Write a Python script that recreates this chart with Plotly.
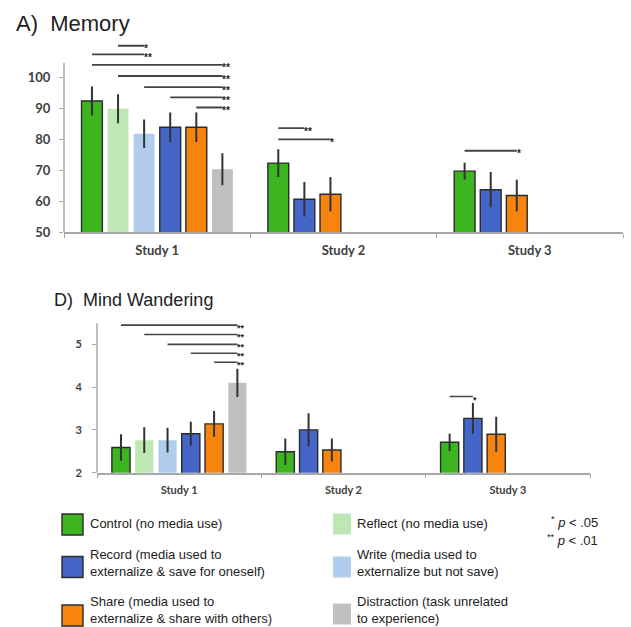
import plotly.graph_objects as go

# ---------------- data ----------------
studies = ["Study 1", "Study 2", "Study 3"]
series = ["Control", "Reflect", "Write", "Record", "Share", "Distraction"]
legend_labels = [
    "Control (no media use)",
    "Reflect (no media use)",
    "Write (media used to<br>externalize but not save)",
    "Record (media used to<br>externalize & save for oneself)",
    "Share (media used to<br>externalize & share with others)",
    "Distraction (task unrelated<br>to experience)",
]

# Memory (panel A): means and error half-widths per series, per study (None = not in study)
mem_control = [92.4, 72.3, 69.7]
mem_reflect = [89.9, None, None]
mem_write = [81.8, None, None]
mem_record = [83.9, 60.6, 63.7]
mem_share = [83.9, 62.2, 61.8]
mem_distraction = [70.3, None, None]

mem_control_err = [4.7, 4.5, 2.7]
mem_reflect_err = [4.7, None, None]
mem_write_err = [4.6, None, None]
mem_record_err = [4.8, 5.6, 5.7]
mem_share_err = [4.8, 5.6, 5.1]
mem_distraction_err = [5.2, None, None]

# Mind wandering (panel D)
mw_control = [2.59, 2.49, 2.71]
mw_reflect = [2.76, None, None]
mw_write = [2.76, None, None]
mw_record = [2.91, 3.00, 3.27]
mw_share = [3.14, 2.53, 2.90]
mw_distraction = [4.10, None, None]

mw_control_err = [0.31, 0.31, 0.20]
mw_reflect_err = [0.30, None, None]
mw_write_err = [0.29, None, None]
mw_record_err = [0.28, 0.39, 0.36]
mw_share_err = [0.30, 0.27, 0.41]
mw_distraction_err = [0.33, None, None]

# significance comparisons: (study, series A, series B, bracket level, label)
mem_sig = [
    ("Study 1", "Reflect", "Write", 110.3, "*"),
    ("Study 1", "Control", "Write", 107.5, "**"),
    ("Study 1", "Control", "Distraction", 104.1, "**"),
    ("Study 1", "Reflect", "Distraction", 100.5, "**"),
    ("Study 1", "Write", "Distraction", 96.9, "**"),
    ("Study 1", "Record", "Distraction", 93.6, "**"),
    ("Study 1", "Share", "Distraction", 90.3, "**"),
    ("Study 2", "Control", "Record", 83.6, "**"),
    ("Study 2", "Control", "Share", 80.0, "*"),
    ("Study 3", "Control", "Share", 76.3, "*"),
]
mw_sig = [
    ("Study 1", "Control", "Distraction", 5.45, "**"),
    ("Study 1", "Reflect", "Distraction", 5.23, "**"),
    ("Study 1", "Write", "Distraction", 5.00, "**"),
    ("Study 1", "Record", "Distraction", 4.79, "**"),
    ("Study 1", "Share", "Distraction", 4.58, "**"),
    ("Study 3", "Control", "Record", 3.78, "*"),
]

mem_ticks = [50, 60, 70, 80, 90, 100]
mw_ticks = [2, 3, 4, 5]

# ---------------- style ----------------
W, H = 631, 627          # reference picture size (layout fractions are based on it)
FIG_H = 635              # rendered height (viewport is scaled to the picture height)
colors = {
    "Control": "#3cb521", "Reflect": "#bde8b4", "Write": "#b0cdee",
    "Record": "#4565c8", "Share": "#f7840e", "Distraction": "#c0c0c0",
}
outlined = {"Control": True, "Reflect": False, "Write": False,
            "Record": True, "Share": True, "Distraction": False}
AXIS_COL = "#a8a8a8"


def px_x(x):
    return x / W


def px_y(y):
    return 1 - y / H


mem = {
    "Control": (mem_control, mem_control_err), "Reflect": (mem_reflect, mem_reflect_err),
    "Write": (mem_write, mem_write_err), "Record": (mem_record, mem_record_err),
    "Share": (mem_share, mem_share_err), "Distraction": (mem_distraction, mem_distraction_err),
}
mw = {
    "Control": (mw_control, mw_control_err), "Reflect": (mw_reflect, mw_reflect_err),
    "Write": (mw_write, mw_write_err), "Record": (mw_record, mw_record_err),
    "Share": (mw_share, mw_share_err), "Distraction": (mw_distraction, mw_distraction_err),
}

fig = go.Figure()


def slot_geometry(data, bargap, groupgap):
    """offset/width (category units) of each present series in each study"""
    w = (1 - bargap) / len(series)
    geo = {}
    for si, st in enumerate(studies):
        present = [s for s in series if data[s][0][si] is not None]
        for k, s in enumerate(present):
            off = -0.5 + bargap / 2 + k * w + w * groupgap / 2
            geo[(st, s)] = (off, w * (1 - groupgap), si)
    return geo


def add_panel(data, geo, xa, ya, sig, sig_width, star_size):
    for s in series:
        vals, errs = data[s]
        xs, ys, es, offs, wids = [], [], [], [], []
        for si, st in enumerate(studies):
            if vals[si] is None:
                continue
            off, wid, _ = geo[(st, s)]
            xs.append(st); ys.append(vals[si]); es.append(errs[si])
            offs.append(off); wids.append(wid)
        fig.add_trace(go.Bar(
            x=xs, y=ys, offset=offs, width=wids, name=s, showlegend=False,
            xaxis=xa, yaxis=ya,
            marker=dict(color=colors[s],
                        line=dict(color="#2b2b2b", width=1.4 if outlined[s] else 0)),
            error_y=dict(type="data", array=es, color="#333333", thickness=2, width=0),
        ))
    xr = "x" if xa == "x" else "x2"
    yr = "y" if ya == "y" else "y2"
    for st, a, b, lvl, lab in sig:
        oa, wa, si = geo[(st, a)]
        ob, wb, _ = geo[(st, b)]
        xa0 = si + oa + wa / 2
        xb0 = si + ob + wb / 2
        fig.add_shape(type="line", xref=xr, yref=yr, x0=xa0, x1=xb0, y0=lvl, y1=lvl,
                      line=dict(color="#444444", width=sig_width))
        fig.add_annotation(xref=xr, yref=yr, x=xb0, y=lvl, text="<b>" + lab + "</b>",
                           showarrow=False, xanchor="left", yanchor="middle",
                           xshift=-1, yshift=-3, borderpad=0,
                           font=dict(family="Liberation Sans", size=star_size, color="#222222"))


# ---------------- panel A ----------------
geoA = slot_geometry(mem, 0.16, 0.2)
add_panel(mem, geoA, "x", "y", mem_sig, 1.8, 10)

# ---------------- panel D ----------------
geoD = slot_geometry(mw, 0.15, 0.22)
add_panel(mw, geoD, "x2", "y2", mw_sig, 1.6, 9)

tickfont = dict(family="Lato", size=13, color="#404040", weight="bold")

fig.update_layout(
    width=W, height=FIG_H, autosize=False, margin=dict(l=0, r=0, t=0, b=0),
    paper_bgcolor="white", plot_bgcolor="white", barmode="overlay",
    showlegend=False,
    xaxis=dict(domain=[px_x(64), px_x(623)], type="category", categoryorder="array",
               categoryarray=studies, range=[-0.5, 2.5], tickson="boundaries",
               ticks="outside", ticklen=4, tickcolor=AXIS_COL, showline=True,
               linecolor=AXIS_COL, linewidth=1.5, showgrid=False, tickfont=dict(tickfont, size=13),
               ticklabelstandoff=6),
    yaxis=dict(domain=[px_y(232), px_y(40.5)], range=[50, 112], tickvals=mem_ticks,
               ticks="outside", ticklen=4, tickcolor=AXIS_COL, showline=False,
               showgrid=False, zeroline=False, tickfont=tickfont, ticklabelstandoff=6),
    xaxis2=dict(domain=[px_x(97), px_x(590)], type="category", categoryorder="array",
                categoryarray=studies, range=[-0.5, 2.5], tickson="boundaries",
                ticks="outside", ticklen=4, tickcolor=AXIS_COL, showline=True,
                linecolor=AXIS_COL, linewidth=1.5, showgrid=False,
                tickfont=dict(tickfont, size=11), anchor="y2", ticklabelstandoff=6),
    yaxis2=dict(domain=[px_y(472.7), px_y(320.8)], range=[2, 5.55], tickvals=mw_ticks,
                ticks="outside", ticklen=4, tickcolor=AXIS_COL, showline=False,
                showgrid=False, zeroline=False, tickfont=dict(tickfont, size=11),
                anchor="x2", ticklabelstandoff=8),
)

# axis lines that stop below the significance brackets
fig.add_shape(type="line", xref="x domain", yref="y", x0=0, x1=0, y0=50, y1=104.7,
              line=dict(color=AXIS_COL, width=1.5))
fig.add_shape(type="line", xref="x2 domain", yref="y2", x0=0, x1=0, y0=2, y1=5.49,
              line=dict(color=AXIS_COL, width=1.5))

# titles
fig.add_annotation(xref="paper", yref="paper", x=px_x(14), y=px_y(23), text="A)  Memory",
                   showarrow=False, xanchor="left", yanchor="middle",
                   font=dict(family="Liberation Sans", size=22, color="#222222"))
fig.add_annotation(xref="paper", yref="paper", x=px_x(52), y=px_y(300), text="D)  Mind Wandering",
                   showarrow=False, xanchor="left", yanchor="middle",
                   font=dict(family="Liberation Sans", size=18, color="#222222"))

# legend (two columns, built from series / legend_labels): square left x, square centre y
legend_pos = {
    "Control": (62, 524.5), "Record": (62, 567), "Share": (62, 615.5),
    "Reflect": (333, 524), "Write": (333, 567), "Distraction": (333, 614),
}
text_y = {"Control": 523, "Reflect": 523, "Record": 562.5, "Write": 562.5,
          "Share": 609.5, "Distraction": 609.5}
for s, lab in zip(series, legend_labels):
    x0, yc = legend_pos[s]
    sw = 21 if outlined[s] else 18
    fig.add_shape(type="rect", xref="paper", yref="paper",
                  x0=px_x(x0), x1=px_x(x0 + sw), y0=px_y(yc - 10.5), y1=px_y(yc + 10.5),
                  fillcolor=colors[s],
                  line=dict(color="#2b2b2b" if outlined[s] else colors[s],
                            width=1.4 if outlined[s] else 0))
    tx = 89 if x0 < 200 else 356
    fig.add_annotation(xref="paper", yref="paper", x=px_x(tx), y=px_y(text_y[s]),
                       text=lab, showarrow=False, xanchor="left", yanchor="middle",
                       align="left", borderpad=0,
                       font=dict(family="Liberation Sans", size=13, color="#222222"))

fig.add_annotation(xref="paper", yref="paper", x=px_x(600), y=px_y(522),
                   text="<sup>*</sup> <i>p</i> < .05", showarrow=False, xanchor="right",
                   yanchor="middle", font=dict(family="Liberation Sans", size=13, color="#222222"))
fig.add_annotation(xref="paper", yref="paper", x=px_x(600), y=px_y(540),
                   text="<sup>**</sup> <i>p</i> < .01", showarrow=False, xanchor="right",
                   yanchor="middle", font=dict(family="Liberation Sans", size=13, color="#222222"))

# remove the default page margin so the figure starts at the window's corner
fig.write_html("out.html",
               config={"displayModeBar": False, "responsive": False},
               post_script="document.body.style.margin='0';document.body.style.overflow='hidden';")
